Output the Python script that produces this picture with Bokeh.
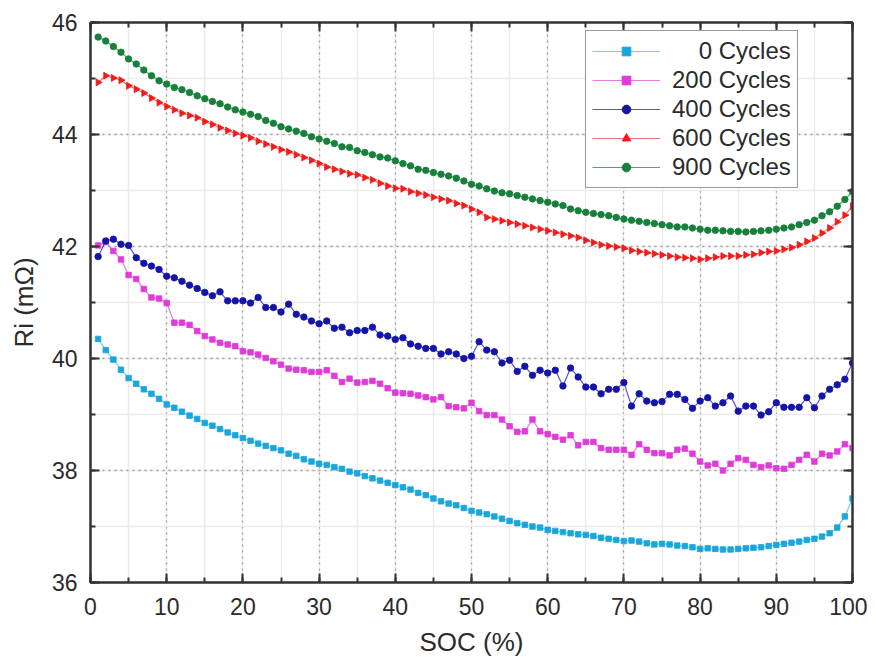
import numpy as np
from bokeh.plotting import figure
from bokeh.models import (Range1d, LinearAxis, SingleIntervalTicker, Legend, LegendItem,
                          CustomJSTickFormatter)
from bokeh.embed import file_html
from bokeh.resources import INLINE

soc = list(range(1, 101))

cycles_0 = [40.35, 40.15, 39.98, 39.80, 39.65, 39.55, 39.45, 39.37, 39.28, 39.18,
            39.12, 39.05, 38.98, 38.92, 38.85, 38.80, 38.74, 38.68, 38.63, 38.58,
            38.53, 38.48, 38.44, 38.40, 38.36, 38.30, 38.26, 38.20, 38.16, 38.12,
            38.10, 38.06, 38.03, 37.98, 37.95, 37.90, 37.86, 37.82, 37.78, 37.74,
            37.70, 37.66, 37.60, 37.56, 37.50, 37.45, 37.41, 37.38, 37.33, 37.28,
            37.25, 37.22, 37.18, 37.14, 37.10, 37.06, 37.03, 37.00, 36.98, 36.94,
            36.92, 36.90, 36.88, 36.86, 36.85, 36.83, 36.80, 36.78, 36.76, 36.74,
            36.75, 36.73, 36.70, 36.68, 36.69, 36.68, 36.66, 36.65, 36.63, 36.60,
            36.61, 36.60, 36.59, 36.59, 36.60, 36.61, 36.62, 36.63, 36.65, 36.67,
            36.69, 36.71, 36.73, 36.76, 36.78, 36.82, 36.88, 36.98, 37.18, 37.50]

cycles_200 = [42.02, 42.08, 41.92, 41.77, 41.49, 41.42, 41.24, 41.09, 41.07, 40.99,
              40.64, 40.64, 40.60, 40.49, 40.40, 40.34, 40.28, 40.25, 40.22, 40.13,
              40.11, 40.07, 40.01, 39.95, 39.89,
              39.82, 39.80, 39.79, 39.76, 39.76, 39.79, 39.69, 39.58, 39.64, 39.57,
              39.58, 39.60, 39.55, 39.47, 39.39, 39.38, 39.37, 39.34, 39.31, 39.27,
              39.31, 39.15, 39.13, 39.11, 39.21, 39.06,
              38.99, 38.99, 38.91, 38.79, 38.69, 38.70, 38.91, 38.70, 38.65, 38.60,
              38.55, 38.63, 38.45, 38.51, 38.51, 38.40, 38.37, 38.37, 38.37, 38.28,
              38.47, 38.37, 38.31, 38.31, 38.27,
              38.37, 38.39, 38.30, 38.16, 38.09, 38.12, 38.00, 38.12, 38.22, 38.19,
              38.10, 38.06, 38.09, 38.04, 38.03, 38.10, 38.19, 38.28, 38.16, 38.30,
              38.27, 38.34, 38.47, 38.40]

cycles_400 = [41.82, 42.10, 42.13, 42.04, 42.02, 41.80, 41.70, 41.65, 41.59, 41.47,
              41.44, 41.38, 41.31, 41.25, 41.18, 41.12, 41.19, 41.03, 41.03, 41.03,
              40.99, 41.09, 40.91, 40.91, 40.83,
              40.97, 40.79, 40.74, 40.67, 40.62, 40.67, 40.54, 40.56, 40.46, 40.50,
              40.50, 40.56, 40.42, 40.40, 40.34, 40.37, 40.26, 40.22, 40.18, 40.18,
              40.08, 40.12, 40.08, 40.00, 40.04, 40.30,
              40.15, 40.12, 39.92, 39.97, 39.77, 39.86, 39.70, 39.79, 39.74, 39.79,
              39.51, 39.83, 39.67, 39.49, 39.49, 39.37, 39.45, 39.45, 39.57, 39.15,
              39.37, 39.24, 39.21, 39.23, 39.36,
              39.36, 39.27, 39.11, 39.24, 39.30, 39.15, 39.21, 39.33, 39.06, 39.15,
              39.15, 38.99, 39.05, 39.21, 39.13, 39.13, 39.13, 39.30, 39.12, 39.33,
              39.45, 39.53, 39.63, 39.92]

cycles_600 = [44.93, 45.05, 45.01, 44.97, 44.87, 44.81, 44.74, 44.65, 44.57, 44.50,
              44.44, 44.38, 44.34, 44.30, 44.23, 44.18, 44.12, 44.07, 44.02, 43.98,
              43.94, 43.88, 43.83, 43.78, 43.73, 43.69, 43.64,
              43.59, 43.54, 43.48, 43.42, 43.38, 43.34, 43.30, 43.28, 43.23, 43.19,
              43.13, 43.08, 43.04, 43.03, 42.98, 42.95, 42.92, 42.88, 42.85, 42.82,
              42.77, 42.73, 42.67, 42.61, 42.52, 42.49, 42.46, 42.43, 42.40, 42.37,
              42.34, 42.31, 42.28, 42.25, 42.22, 42.19, 42.16, 42.11, 42.07, 42.03,
              42.01, 41.99, 41.97, 41.93, 41.91, 41.89, 41.87, 41.85, 41.83, 41.81,
              41.80, 41.79, 41.77, 41.79, 41.81, 41.83, 41.83, 41.83, 41.85, 41.86,
              41.89, 41.91, 41.92, 41.95, 41.98, 42.03, 42.09, 42.15, 42.24, 42.33,
              42.44, 42.56, 42.72]

cycles_900 = [45.74, 45.67, 45.57, 45.47, 45.35, 45.26, 45.15, 45.05, 44.96, 44.90,
              44.84, 44.80, 44.75, 44.69, 44.64, 44.59, 44.55, 44.49, 44.44, 44.40,
              44.36, 44.32, 44.25, 44.20, 44.14, 44.10, 44.06,
              44.02, 43.96, 43.92, 43.88, 43.84, 43.78, 43.77, 43.71, 43.68, 43.64,
              43.60, 43.58, 43.53, 43.48, 43.44, 43.38, 43.36, 43.32, 43.29, 43.26,
              43.22, 43.17, 43.11, 43.08, 43.03, 42.99, 42.96, 42.94, 42.91, 42.88,
              42.85, 42.82, 42.79, 42.76, 42.73, 42.67, 42.64,
              42.61, 42.59, 42.57, 42.55, 42.52, 42.49, 42.47, 42.45, 42.43, 42.41,
              42.39, 42.37, 42.35, 42.35, 42.33, 42.31, 42.29, 42.29, 42.28, 42.27,
              42.27, 42.26, 42.27, 42.28, 42.29, 42.31, 42.33, 42.35, 42.39, 42.43,
              42.47, 42.55, 42.62, 42.72, 42.84, 42.98]

labels = ["\u2007\u20070 Cycles", "200 Cycles", "400 Cycles", "600 Cycles", "900 Cycles"]
series = [cycles_0, cycles_200, cycles_400, cycles_600, cycles_900]
line_colors = ["#45c8e6", "#e55ad8", "#2a2ac0", "#e85050", "#2a8a45"]
marker_colors = ["#1aa6dc", "#e03ad8", "#1414a8", "#f01c1c", "#17803a"]
markers = ["square", "square", "circle", "triangle", "circle"]
marker_sizes = [5.5, 5.5, 6.5, 7, 6.5]
marker_angles = [0, 0, 0, -np.pi / 2, 0]

FONT = "Liberation Sans"
TXT = "#2b2b2b"

p = figure(width=867, height=660, output_backend="svg", toolbar_location=None,
           x_range=Range1d(0, 100), y_range=Range1d(36, 46),
           min_border_left=90, min_border_right=15, min_border_top=22, min_border_bottom=78,
           background_fill_color="white", border_fill_color="white")
p.outline_line_color = "#333333"
p.outline_line_width = 2

xt = SingleIntervalTicker(interval=10, num_minor_ticks=2)
yt = SingleIntervalTicker(interval=2, num_minor_ticks=2)

for ax in [p.xaxis[0], p.yaxis[0]]:
    ax.major_tick_in = 9
    ax.major_tick_out = 0
    ax.minor_tick_in = 5
    ax.minor_tick_out = 0
    ax.axis_line_width = 2
    ax.axis_line_color = "#333333"
    ax.major_tick_line_width = 2
    ax.major_tick_line_color = "#333333"
    ax.minor_tick_line_width = 2
    ax.minor_tick_line_color = "#333333"
    ax.major_label_text_font = FONT
    ax.major_label_text_font_size = "23px"
    ax.major_label_text_color = TXT
    ax.axis_label_text_font = FONT
    ax.axis_label_text_font_size = "26px"
    ax.axis_label_text_font_style = "normal"
    ax.axis_label_text_color = TXT

p.xaxis[0].ticker = xt
p.yaxis[0].ticker = yt
p.xaxis[0].axis_label = "SOC (%)"
p.yaxis[0].axis_label = "Ri (m\u03a9)"
p.xaxis[0].major_label_standoff = 15
p.yaxis[0].major_label_standoff = 13
p.xaxis[0].axis_label_standoff = 9
p.yaxis[0].axis_label_standoff = 10

blank = CustomJSTickFormatter(code="return '';")
for side, tk in [("above", xt), ("right", yt)]:
    ax = LinearAxis(ticker=tk, formatter=blank)
    ax.major_tick_in = 9
    ax.major_tick_out = 0
    ax.minor_tick_in = 5
    ax.minor_tick_out = 0
    ax.axis_line_width = 2
    ax.axis_line_color = "#333333"
    ax.major_tick_line_width = 2
    ax.major_tick_line_color = "#333333"
    ax.minor_tick_line_width = 2
    ax.minor_tick_line_color = "#333333"
    ax.major_label_standoff = 0
    ax.major_label_text_font_size = "1px"
    p.add_layout(ax, side)

for g in [p.xgrid[0], p.ygrid[0]]:
    g.grid_line_color = "#a0a0a0"
    g.grid_line_dash = "2 4"
    g.grid_line_width = 1.3
    g.minor_grid_line_color = "#ebebeb"
    g.minor_grid_line_width = 1.5
p.xgrid[0].ticker = xt
p.ygrid[0].ticker = yt

items = []
for lab, ys, lc, mc, mk, ms, ang in zip(labels, series, line_colors, marker_colors,
                                        markers, marker_sizes, marker_angles):
    lr = p.line(soc, ys, line_color=lc, line_width=1.2, line_alpha=0.8)
    sr = p.scatter(soc, ys, marker=mk, size=ms, angle=ang, fill_color=mc, line_color=mc,
                   line_width=0.8)
    items.append(LegendItem(label=lab, renderers=[lr, sr]))

legend = Legend(items=items, location=(495, 394))
legend.label_text_font = FONT
legend.label_text_font_size = "24px"
legend.label_text_color = TXT
legend.glyph_width = 68
legend.glyph_height = 22
legend.label_height = 22
legend.spacing = 1
legend.padding = 6
legend.label_standoff = 12
legend.border_line_color = "#333333"
legend.border_line_width = 1.5
legend.background_fill_color = "white"
legend.background_fill_alpha = 1
p.add_layout(legend)

open("out.html", "w").write(file_html(p, INLINE))
